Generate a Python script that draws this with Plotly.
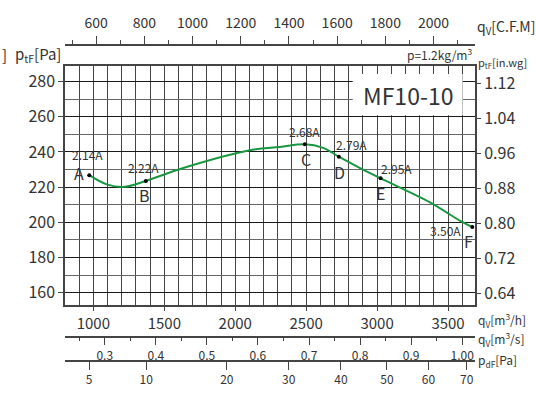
import numpy as np
import plotly.graph_objects as go

# MF10-10 fan curve (q in m3/h, total pressure in Pa)
curve_q = [971, 1094, 1223, 1370, 1633, 2103, 2314, 2490, 2619, 2730, 2877, 3025, 3370, 3593, 3671]
curve_p = [226.8, 221.6, 220.2, 223.5, 230.9, 241.0, 242.8, 244.3, 242.3, 237.3, 230.9, 225.0, 211.5, 200.5, 197.3]

# operating points with motor current
pt_names = ['A', 'B', 'C', 'D', 'E', 'F']
pt_q = [971, 1370, 2490, 2730, 3025, 3671]
pt_p = [226.8, 223.5, 244.3, 237.3, 225.0, 197.3]
pt_amps = ['2.14A', '2.22A', '2.68A', '2.79A', '2.95A', '3.50A']

# axis ticks
pa_ticks = [160, 180, 200, 220, 240, 260, 280]
inwg_ticks = [0.64, 0.72, 0.80, 0.88, 0.96, 1.04, 1.12]
m3h_ticks = [1000, 1500, 2000, 2500, 3000, 3500]
cfm_ticks = [600, 800, 1000, 1200, 1400, 1600, 1800, 2000]
cfm_minor = [500, 700, 900, 1100, 1300, 1500, 1700, 1900, 2100]
m3s_ticks = [0.3, 0.4, 0.5, 0.6, 0.7, 0.8, 0.9, 1.0]
m3s_labels = ['0.3', '0.4', '0.5', '0.6', '0.7', '0.8', '0.9', '1.00']
m3s_minor = [0.25, 0.35, 0.45, 0.55, 0.65, 0.75, 0.85, 0.95]
pdf_ticks = [5, 10, 20, 30, 40, 50, 60, 70]

PA_PER_INWG = 249.089
M3H_PER_CFM = 1.699
M3H_PER_SQRT_PA = 434.0   # dynamic pressure scale: q = k * sqrt(pdF)

q_range = [800, 3690]
p_range = [153, 288.6]

FONT = "Noto Sans CJK SC, Noto Sans, sans-serif"
TXT = '#333'
LINE = '#444'

# pixel helpers for text placement (plot paper spans x 65..475, y 37..362)
W, H = 536, 399
ML, MR, MT, MB = 65, 61, 37, 37


def px(x):
    return (x - ML) / (W - ML - MR)


def py(y):
    return (H - MB - y) / (H - MT - MB)


fig = go.Figure()

fig.add_trace(go.Scatter(x=curve_q, y=curve_p, mode='lines', line=dict(color='#1a9641', width=2, shape='spline'),
                         showlegend=False, hoverinfo='skip'))
fig.add_trace(go.Scatter(x=pt_q, y=pt_p, mode='markers', marker=dict(color='black', size=4),
                         showlegend=False, hoverinfo='skip'))

# empty traces so the extra axes get drawn
for xa, ya in [('x2', 'y'), ('x3', 'y'), ('x4', 'y'), ('x', 'y2')]:
    fig.add_trace(go.Scatter(x=[], y=[], xaxis=xa, yaxis=ya, showlegend=False, hoverinfo='skip'))

# white label box behind model name
fig.add_shape(type='rect', xref='x', yref='y', x0=2828, x1=3603, y0=260.8, y1=284.3,
              fillcolor='white', line=dict(width=0), layer='between')

annotations = []
amp_shift = [(-2, 21), (-2, 13), (0, 13), (13, 12), (16, 10), (-27, -3)]
name_shift = [(-10, 2), (-1, -14), (1, -15), (1, -15), (0, -15), (-4, -14)]
for i in range(len(pt_names)):
    annotations.append(dict(x=pt_q[i], y=pt_p[i], xref='x', yref='y', text=pt_amps[i], showarrow=False,
                            xshift=amp_shift[i][0], yshift=amp_shift[i][1], font=dict(size=12, color=TXT)))
    annotations.append(dict(x=pt_q[i], y=pt_p[i], xref='x', yref='y', text=pt_names[i], showarrow=False,
                            xshift=name_shift[i][0], yshift=name_shift[i][1], font=dict(size=16, color=TXT)))

labels = [
    ('MF10-10', 408, 88, 'center', 23),
    ('q<sub>V</sub>[C.F.M]', 475, 18, 'left', 14),
    ('p=1.2kg/m<sup>3</sup>', 474, 46, 'right', 12),
    ('p<sub>tF</sub>[Pa]', 63, 47, 'right', 15),
    (']', 0, 47, 'left', 15),
    ('p<sub>tF</sub>[in.wg]', 476, 55, 'left', 11),
    ('q<sub>V</sub>[m<sup>3</sup>/h]', 476, 320, 'left', 12),
    ('q<sub>V</sub>[m<sup>3</sup>/s]', 476, 339, 'left', 12),
    ('p<sub>dF</sub>[Pa]', 476, 361, 'left', 12),
]
for text, x, y, anchor, size in labels:
    annotations.append(dict(x=px(x), y=py(y), xref='paper', yref='paper', text=text, showarrow=False,
                            xanchor=anchor, yanchor='middle', font=dict(size=size, color=TXT)))

y_dom = [py(304.5), py(59)]

fig.update_layout(
    width=W, height=H,
    margin=dict(l=ML, r=MR, t=MT, b=MB, pad=0),
    paper_bgcolor='white', plot_bgcolor='white',
    font=dict(family=FONT, color=TXT),
    annotations=annotations,
    xaxis=dict(domain=[0, 1], range=q_range, anchor='y', tickmode='array', tickvals=m3h_ticks,
               ticks='outside', ticklen=4, tickcolor=LINE, showline=True, linecolor=LINE, linewidth=1.5,
               mirror=True, showgrid=True, gridcolor=LINE, gridwidth=1, zeroline=False,
               minor=dict(tick0=800, dtick=100, showgrid=True, gridcolor=LINE, gridwidth=1, ticks=''),
               tickfont=dict(size=15, color=TXT)),
    yaxis=dict(domain=y_dom, range=p_range, anchor='x', tickmode='array', tickvals=pa_ticks,
               ticks='outside', ticklen=5, tickcolor=LINE, showline=True, linecolor=LINE, linewidth=1.5,
               mirror=True, showgrid=True, gridcolor='#1a1a1a', gridwidth=1.2, zeroline=False,
               minor=dict(tick0=150, dtick=10, showgrid=True, gridcolor='#666', gridwidth=1, ticks=''),
               tickfont=dict(size=16, color=TXT)),
    yaxis2=dict(overlaying='y', side='right', anchor='x',
                range=[p_range[0] / PA_PER_INWG, p_range[1] / PA_PER_INWG],
                tickmode='array', tickvals=inwg_ticks, ticktext=['%.2f' % v for v in inwg_ticks],
                ticks='outside', ticklen=5, tickcolor=LINE, showline=False, showgrid=False, zeroline=False,
                tickfont=dict(size=16, color=TXT)),
    xaxis2=dict(overlaying='x', side='top', anchor='free', position=1, range=q_range,
                tickmode='array', tickvals=[c * M3H_PER_CFM for c in cfm_ticks], ticktext=[str(c) for c in cfm_ticks],
                ticks='outside', ticklen=8, tickcolor=LINE, showline=True, linecolor=LINE, linewidth=1.5,
                showgrid=False, zeroline=False, ticklabelstandoff=3,
                minor=dict(tickmode='array', tickvals=[c * M3H_PER_CFM for c in cfm_minor], ticks='outside',
                           ticklen=4, tickcolor=LINE, showgrid=False),
                tickfont=dict(size=14, color=TXT)),
    xaxis3=dict(overlaying='x', side='bottom', anchor='free', position=py(337), range=q_range,
                tickmode='array', tickvals=[v * 3600 for v in m3s_ticks], ticktext=m3s_labels,
                ticks='outside', ticklen=8, tickcolor=LINE, showline=True, linecolor=LINE, linewidth=1.5,
                showgrid=False, zeroline=False,
                minor=dict(tickmode='array', tickvals=[v * 3600 for v in m3s_minor], ticks='outside',
                           ticklen=4, tickcolor=LINE, showgrid=False),
                tickfont=dict(size=12, color=TXT)),
    xaxis4=dict(overlaying='x', side='bottom', anchor='free', position=0, range=q_range,
                tickmode='array', tickvals=[M3H_PER_SQRT_PA * np.sqrt(p) for p in pdf_ticks],
                ticktext=[str(p) for p in pdf_ticks],
                ticks='outside', ticklen=8, tickcolor=LINE, showline=True, linecolor=LINE, linewidth=1.5,
                showgrid=False, zeroline=False, tickfont=dict(size=12, color=TXT)),
)

fig.write_html("out.html", config={'displayModeBar': False},
               post_script="document.body.style.margin='0';")
